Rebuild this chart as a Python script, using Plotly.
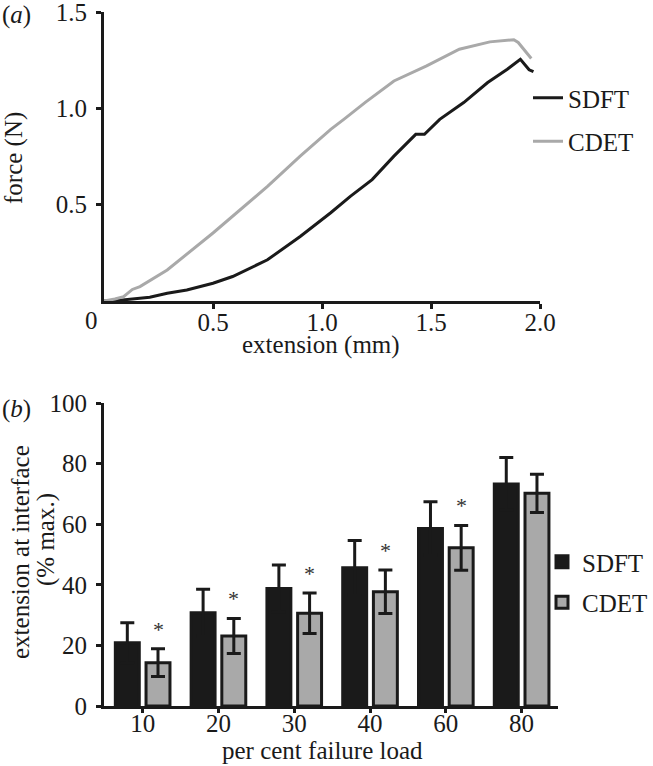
import plotly.graph_objects as go

# (a) force-extension curves
ext_sdft = [0.0, 0.04, 0.21, 0.29, 0.38, 0.5, 0.59, 0.67, 0.75, 0.9, 1.04, 1.13, 1.23, 1.33, 1.43, 1.47,
            1.54, 1.65, 1.76, 1.85, 1.91, 1.95, 1.97]
force_sdft = [0.0, 0.0, 0.02, 0.04, 0.057, 0.092, 0.127, 0.17, 0.214, 0.335, 0.458, 0.543, 0.63, 0.752,
              0.865, 0.865, 0.943, 1.03, 1.134, 1.203, 1.255, 1.2, 1.19]
ext_cdet = [0.0, 0.05, 0.09, 0.13, 0.165, 0.29, 0.5, 0.75, 0.9, 1.04, 1.1, 1.2, 1.33, 1.48, 1.63, 1.77,
            1.88, 1.9, 1.96]
force_cdet = [0.0, 0.01, 0.022, 0.06, 0.075, 0.161, 0.353, 0.595, 0.752, 0.891, 0.943, 1.032, 1.142,
              1.22, 1.307, 1.345, 1.356, 1.342, 1.259]

# (b) extension at interface
loads = ["10", "20", "30", "40", "60", "80"]
sdft_mean = [20.9, 30.8, 38.8, 45.6, 58.6, 73.3]
sdft_err = [6.6, 7.7, 7.7, 9.0, 8.8, 8.7]
cdet_mean = [14.3, 23.1, 30.6, 37.7, 52.2, 70.2]
cdet_err = [4.6, 5.8, 6.7, 7.2, 7.4, 6.3]
significant = [True, True, True, True, True, False]

FONT = "Liberation Serif"
GREY = "#a9a9a9"
BLACK = "#1a1a1a"
W, H = 653, 766


def px(x):
    return x / W


def py(y):
    return 1 - y / H


fig = go.Figure()

fig.add_trace(go.Scatter(x=ext_sdft, y=force_sdft, mode="lines", name="SDFT",
                         line=dict(color=BLACK, width=3), xaxis="x", yaxis="y",
                         legend="legend", legendgroup="a1"))
fig.add_trace(go.Scatter(x=ext_cdet, y=force_cdet, mode="lines", name="CDET",
                         line=dict(color=GREY, width=3), xaxis="x", yaxis="y",
                         legend="legend", legendgroup="a2"))

fig.add_trace(go.Bar(x=loads, y=sdft_mean, name="SDFT", xaxis="x2", yaxis="y2",
                     marker=dict(color=BLACK, line=dict(color=BLACK, width=3)),
                     error_y=dict(type="data", array=sdft_err, color=BLACK, thickness=3, width=7),
                     legend="legend2", legendgroup="b1"))
fig.add_trace(go.Bar(x=loads, y=cdet_mean, name="CDET", xaxis="x2", yaxis="y2",
                     marker=dict(color=GREY, line=dict(color=BLACK, width=3)),
                     error_y=dict(type="data", array=cdet_err, color=BLACK, thickness=3, width=7),
                     legend="legend2", legendgroup="b2"))

# significance stars above the CDET bars (x is the category index)
for i, (m, e, s) in enumerate(zip(cdet_mean, cdet_err, significant)):
    if s:
        fig.add_annotation(x=i, y=m + e, xref="x2", yref="y2", text="*", showarrow=False,
                           xshift=15.5, yshift=5, yanchor="bottom",
                           font=dict(family=FONT, size=22, color="#333333"))


def ax(**kw):
    base = dict(showline=True, linewidth=3, linecolor=BLACK, mirror=False,
                ticks="outside", ticklen=5, tickwidth=3, tickcolor=BLACK,
                showgrid=False, zeroline=False, automargin=False,
                tickfont=dict(family=FONT, size=25, color=BLACK))
    base.update(kw)
    return base


fig.update_layout(
    width=W, height=H,
    margin=dict(l=0, r=0, t=0, b=0, autoexpand=False),
    plot_bgcolor="white", paper_bgcolor="white",
    font=dict(family=FONT, size=25, color=BLACK),
    barmode="group", bargap=0.19, bargroupgap=0.22,
    xaxis=ax(domain=[px(104), px(540)], range=[0, 2.0],
             tickvals=[0.5, 1.0, 1.5, 2.0], tickformat=".1f", anchor="y",
             ticklabelstandoff=-8),
    yaxis=ax(domain=[py(301), py(12)], range=[0, 1.5],
             tickvals=[0.5, 1.0, 1.5], tickformat=".1f", anchor="x",
             ticklabelstandoff=4, ticklabeloverflow="allow"),
    xaxis2=ax(domain=[px(104), px(558)], range=[-0.51, 5.48], type="category",
              anchor="y2", ticklen=4, ticklabelstandoff=-11),
    yaxis2=ax(domain=[py(706), py(403)], range=[0, 100], dtick=20, anchor="x2",
              ticklabelstandoff=4, ticklabeloverflow="allow"),
    legend=dict(x=px(528), y=py(75), xanchor="left", yanchor="top",
                font=dict(family=FONT, size=25), tracegroupgap=8, bgcolor="rgba(0,0,0,0)"),
    legend2=dict(x=1, y=py(539), xanchor="right", yanchor="top",
                 font=dict(family=FONT, size=25), tracegroupgap=5, bgcolor="rgba(0,0,0,0)"),
)


def label(text, x, y, size=25, angle=0, anchor="center"):
    fig.add_annotation(text=text, x=px(x), y=py(y), xref="paper", yref="paper",
                       xanchor=anchor, yanchor="middle", textangle=angle, showarrow=False,
                       font=dict(family=FONT, size=size, color=BLACK))


# axis titles
label("extension (mm)", 321, 345)
label("per cent failure load", 322, 750)
label("force (N)", 14, 158, angle=-90)
label("extension at interface", 20, 552, angle=-90)
label("(% max.)", 46, 540, angle=-90)

# panel letters and the shared origin label of panel (a)
label("(<i>a</i>)", 0, 15, anchor="left")
label("(<i>b</i>)", 0, 409, anchor="left")
label("0", 91, 321)

# drop the default 8px page margin so the figure fills the window exactly
fig.write_html("out.html", config={"displayModeBar": False},
               post_script="document.body.style.margin = '0px';")
